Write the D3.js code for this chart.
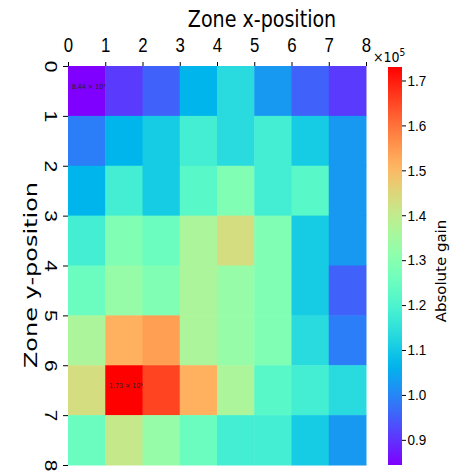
<!DOCTYPE html>
<html>
<head>
<meta charset="utf-8">
<script src="https://cdn.jsdelivr.net/npm/d3@7"></script>
<style>
  body { margin: 0; background: #fff; }
  svg { display: block; font-family: "DejaVu Sans", sans-serif; }
</style>
</head>
<body>
<svg width="458" height="475"></svg>
<script>
// zone indices along each axis
const xZones = [0, 1, 2, 3, 4, 5, 6, 7];
const yZones = [0, 1, 2, 3, 4, 5, 6, 7];
const xTicks = [0, 1, 2, 3, 4, 5, 6, 7, 8];
const yTicks = [0, 1, 2, 3, 4, 5, 6, 7, 8];
const cbarTicks = [0.9, 1.0, 1.1, 1.2, 1.3, 1.4, 1.5, 1.6, 1.7];

// absolute gain (x 1e5), one row per y-zone
const gainRows = [
    [0.844, 0.910, 0.955, 1.066, 1.136, 1.026, 0.955, 0.910],
    [0.990, 1.066, 1.104, 1.183, 1.136, 1.183, 1.104, 1.026],
    [1.066, 1.183, 1.104, 1.220, 1.287, 1.183, 1.220, 1.026],
    [1.183, 1.287, 1.252, 1.365, 1.433, 1.287, 1.104, 1.026],
    [1.252, 1.327, 1.287, 1.365, 1.327, 1.287, 1.104, 0.955],
    [1.365, 1.513, 1.540, 1.365, 1.327, 1.287, 1.136, 0.990],
    [1.433, 1.730, 1.654, 1.513, 1.365, 1.220, 1.183, 1.136],
    [1.252, 1.407, 1.327, 1.252, 1.183, 1.183, 1.104, 1.026]
];
const vmin = 0.844, vmax = 1.730;
const minLabel = "8.44 × 10⁴";
const maxLabel = "1.73 × 10⁵";

// matplotlib "rainbow"
function rainbow(t) {
    t = Math.max(0, Math.min(1, t));
    const r = Math.min(1, Math.abs(2 * t - 0.5));
    const g = Math.sin(Math.PI * t);
    const b = Math.cos(Math.PI * t / 2);
    return d3.rgb(r * 255, g * 255, b * 255).formatHex();
}

const svg = d3.select("svg");
const mLeft = 68, mRight = 366, mTop = 66, mBottom = 465;
const squish = 0.8; // the figure text looks narrowed horizontally

const x = d3.scaleLinear().domain([0, 8]).range([mLeft, mRight]);
const y = d3.scaleLinear().domain([0, 8]).range([mTop, mBottom]);
const color = d3.scaleSequential(rainbow).domain([vmin, vmax]);

const cells = [];
gainRows.forEach((row, j) => row.forEach((v, i) => cells.push({ i: xZones[i], j: yZones[j], v })));

svg.append("g")
    .selectAll("rect")
    .data(cells)
    .enter().append("rect")
    .attr("x", d => x(d.i))
    .attr("y", d => y(d.j))
    .attr("width", x(1) - x(0) + 0.5)
    .attr("height", y(1) - y(0) + 0.5)
    .attr("fill", d => color(d.v));

// min / max annotations
const minCell = cells.find(d => d.v === d3.min(cells, c => c.v));
const maxCell = cells.find(d => d.v === d3.max(cells, c => c.v));
[[minCell, minLabel], [maxCell, maxLabel]].forEach(([c, label]) => {
    svg.append("text")
        .attr("transform", `translate(${x(c.i + 0.5) + 2},${y(c.j + 0.5) - 2}) scale(0.9,1)`)
        .attr("text-anchor", "middle")
        .attr("font-size", 7)
        .attr("fill", "#222")
        .text(label);
});

// x axis on top
const xAxis = svg.append("g")
    .attr("transform", `translate(0,${mTop})`)
    .call(d3.axisTop(x).tickValues(xTicks).tickFormat(d3.format("d")).tickSize(4).tickSizeOuter(0));
xAxis.select(".domain").remove();
xAxis.selectAll("text")
    .attr("font-size", 21).attr("fill", "#000").attr("y", -14)
    .attr("transform", `scale(${squish},1)`);
xAxis.selectAll("line").attr("stroke", "#000");

// y axis on left, labels turned
const yAxis = svg.append("g")
    .attr("transform", `translate(${mLeft},0)`)
    .call(d3.axisLeft(y).tickValues(yTicks).tickFormat(d3.format("d")).tickSize(5).tickSizeOuter(0));
yAxis.select(".domain").remove();
yAxis.selectAll("line").attr("stroke", "#000");
yAxis.selectAll("text")
    .attr("font-size", 21).attr("fill", "#000")
    .attr("x", 0).attr("y", 0).attr("dy", "0.35em")
    .attr("text-anchor", "middle")
    .attr("transform", `translate(-17,0) scale(${squish},1) rotate(90)`);

svg.append("text")
    .attr("transform", `translate(262,27) scale(0.83,1)`)
    .attr("text-anchor", "middle")
    .attr("font-size", 23)
    .text("Zone x-position");

svg.append("text")
    .attr("transform", `translate(37,275) scale(0.75,1) rotate(-90)`)
    .attr("text-anchor", "middle")
    .attr("font-size", 24)
    .text("Zone y-position");

// colorbar
const cbX = 388, cbW = 14;
const cb = d3.scaleLinear().domain([vmin, vmax]).range([mBottom, 67]);
const grad = svg.append("defs").append("linearGradient")
    .attr("id", "cbgrad").attr("x1", 0).attr("y1", 1).attr("x2", 0).attr("y2", 0);
grad.selectAll("stop")
    .data(d3.range(0, 1.0001, 0.02))
    .enter().append("stop")
    .attr("offset", d => d)
    .attr("stop-color", d => rainbow(d));
svg.append("rect")
    .attr("x", cbX).attr("y", cb(vmax))
    .attr("width", cbW).attr("height", cb(vmin) - cb(vmax))
    .attr("fill", "url(#cbgrad)");

const cAxis = svg.append("g")
    .attr("transform", `translate(${cbX + cbW},0)`)
    .call(d3.axisRight(cb).tickValues(cbarTicks).tickFormat(d3.format(".1f")).tickSize(4).tickSizeOuter(0));
cAxis.select(".domain").remove();
cAxis.selectAll("line").attr("stroke", "#000");
cAxis.selectAll("text").attr("font-size", 15).attr("fill", "#000").attr("x", 6)
    .attr("transform", "scale(0.9,1)");

svg.append("text")
    .attr("transform", "translate(373,62) scale(0.9,1)")
    .attr("font-size", 14)
    .html('×10<tspan dy="-6" font-size="10">5</tspan>');

svg.append("text")
    .attr("transform", "translate(446,271) scale(0.9,1) rotate(-90)")
    .attr("text-anchor", "middle")
    .attr("font-size", 15)
    .text("Absolute gain");
</script>
</body>
</html>
